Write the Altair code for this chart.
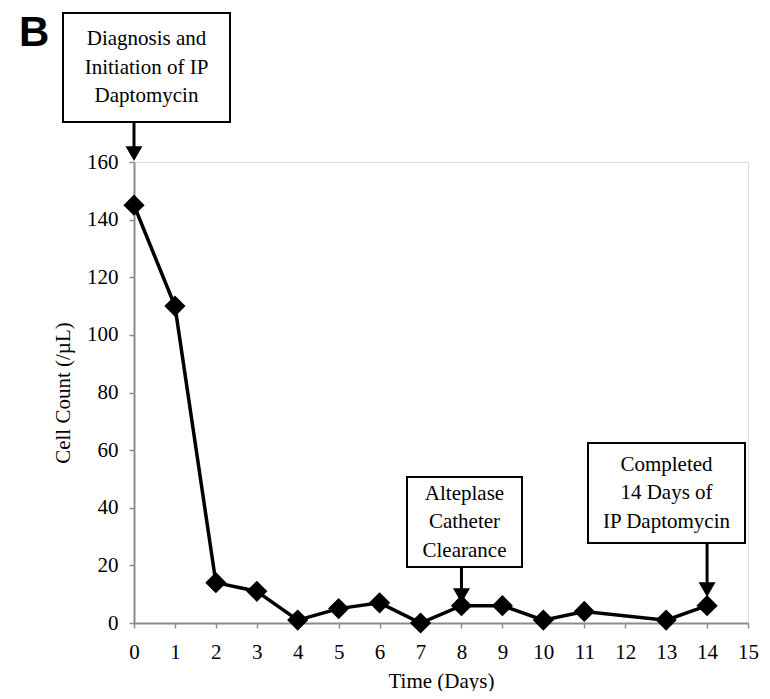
import altair as alt
import pandas as pd

# ---- data ----
days = [0, 1, 2, 3, 4, 5, 6, 7, 8, 9, 10, 11, 13, 14]
counts = [145, 110, 14, 11, 1, 5, 7, 0, 6, 6, 1, 4, 1, 6]

x_ticks = list(range(0, 16))
y_ticks = list(range(0, 161, 20))

annot_days = [0, 8, 14]
annot_texts = [
    "Diagnosis and\nInitiation of IP\nDaptomycin",
    "Alteplase\nCatheter\nClearance",
    "Completed\n14 Days of\nIP Daptomycin",
]

# annotation layout (pixels relative to plot origin): box x1, x2, y1, y2 ; arrow tip y
box_layout = [(-71, 96, -149, -40), (273, 388, 315, 405), (454, 611, 281, 381)]
arrow_tips = [-1, 441, 435]

SERIF = "Liberation Serif"
GRAY = "#8c8c8c"
LH = 28.5

df = pd.DataFrame({"day": days, "count": counts})

xscale = alt.Scale(domain=[0, 15], nice=False, zero=False)
yscale = alt.Scale(domain=[0, 160], nice=False)

x_axis = alt.Axis(values=x_ticks, grid=False, tickSize=5, tickColor=GRAY, tickWidth=1.5,
                  domainColor=GRAY, domainWidth=2, labelFont=SERIF, labelFontSize=21,
                  labelColor="black", labelPadding=13, labelFlush=False,
                  titleFont=SERIF, titleFontSize=21,
                  titleFontWeight="normal", titleColor="black", titlePadding=8, format="d")
y_axis = alt.Axis(values=y_ticks, grid=False, tickSize=5, tickColor=GRAY, tickWidth=1.5,
                  domainColor=GRAY, domainWidth=2, labelFont=SERIF, labelFontSize=21,
                  labelColor="black", labelPadding=11, labelFlush=False,
                  titleFont=SERIF, titleFontSize=21,
                  titleFontWeight="normal", titleColor="black", titlePadding=13, format="d")

base = alt.Chart(df)
line = base.mark_line(color="black", strokeWidth=3.5).encode(
    x=alt.X("day:Q", scale=xscale, axis=x_axis, title="Time (Days)"),
    y=alt.Y("count:Q", scale=yscale, axis=y_axis, title="Cell Count (/µL)"),
)
pts = base.mark_point(shape="diamond", filled=True, size=450, color="black", opacity=1).encode(
    x=alt.X("day:Q", scale=xscale),
    y=alt.Y("count:Q", scale=yscale),
)

layers = [line, pts]

for d, t, (x1, x2, y1, y2), tip in zip(annot_days, annot_texts, box_layout, arrow_tips):
    adf = pd.DataFrame({"day": [d], "label": [t]})
    ac = alt.Chart(adf)
    rect = ac.mark_rect(fill="white", stroke="black", strokeWidth=2).encode(
        x=alt.value(x1), x2=alt.value(x2), y=alt.value(y1), y2=alt.value(y2))
    txt = ac.mark_text(font=SERIF, fontSize=21, lineBreak="\n", lineHeight=LH,
                       baseline="middle", align="center", color="black").encode(
        x=alt.value((x1 + x2) / 2), y=alt.value((y1 + y2) / 2 - LH), text="label:N")
    rule = ac.mark_rule(color="black", strokeWidth=3).encode(
        x=alt.X("day:Q", scale=xscale), y=alt.value(y2), y2=alt.value(tip - 10))
    head = ac.mark_point(shape="triangle-down", filled=True, size=289, color="black",
                         opacity=1).encode(
        x=alt.X("day:Q", scale=xscale), y=alt.value(tip - 7.4))
    layers += [rect, txt, rule, head]

bdf = pd.DataFrame({"t": ["B"]})
panel = alt.Chart(bdf).mark_text(font="Liberation Sans", fontWeight="bold", fontSize=42,
                                 align="left", baseline="alphabetic", color="black").encode(
    x=alt.value(-115), y=alt.value(-116), text="t:N")
layers.append(panel)

chart = alt.layer(*layers).properties(
    width=614, height=461,
    padding={"left": 126, "top": 154, "right": 14, "bottom": 68},
    autosize=alt.AutoSizeParams(type="none"),
).configure_view(stroke=GRAY, strokeWidth=2).configure(background="white")

chart.save("out.html", embed_options={"renderer": "svg", "actions": False})
